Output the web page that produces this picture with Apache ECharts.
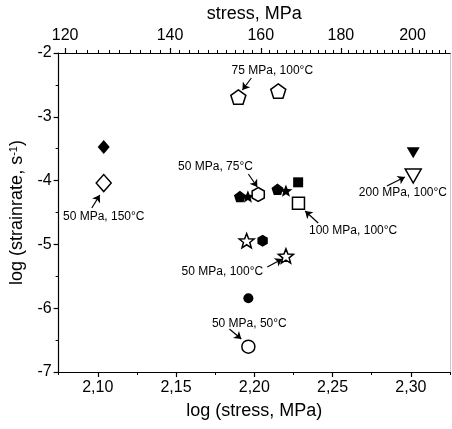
<!DOCTYPE html>
<html>
<head>
<meta charset="utf-8">
<script src="https://cdn.jsdelivr.net/npm/echarts@6/dist/echarts.min.js"></script>
<style>
  html, body { margin: 0; padding: 0; background: #fff; }
  #chart { width: 452px; height: 429px; }
</style>
</head>
<body>
<div id="chart"></div>
<script>
// Creep data: log(stress, MPa) vs log(strain rate, 1/s)
const diamondFilled  = [[2.1038, -3.473]];
const diamondOpen    = [[2.1038, -4.038]];
const pentagonOpen   = [[2.1898, -2.690], [2.2153, -2.596]];
const pentagonFilled = [[2.1908, -4.249], [2.2148, -4.136]];
const starFilled     = [[2.1959, -4.249], [2.2202, -4.158]];
const hexagonOpen    = [[2.2025, -4.218]];
const hexagonFilled  = [[2.2053, -4.942]];
const squareFilled   = [[2.2280, -4.027]];
const squareOpen     = [[2.2282, -4.356]];
const starOpen       = [[2.1951, -4.942], [2.2202, -5.182]];
const circleFilled   = [[2.1962, -5.845]];
const circleOpen     = [[2.1962, -6.603]];
const triangleFilled = [[2.3015, -3.563]];
const triangleOpen   = [[2.3015, -3.928]];

// Axis ticks
const logStressTicks = [2.10, 2.15, 2.20, 2.25, 2.30];
const logStressMinor = [2.075, 2.125, 2.175, 2.225, 2.275, 2.325];
const stressTicks = [120, 140, 160, 180, 200];
const stressMinor = [];
for (let s = 118; s <= 210; s += 2) stressMinor.push(s);

// Annotation texts and arrows (data coordinates)
const noteTexts = [
  { name: '75 MPa, 100°C',  value: [2.2115, -2.282] },
  { name: '50 MPa, 150°C',  value: [2.1038, -4.571] },
  { name: '50 MPa, 75°C',   value: [2.1752, -3.787] },
  { name: '100 MPa, 100°C', value: [2.2631, -4.790] },
  { name: '50 MPa, 100°C',  value: [2.1796, -5.433] },
  { name: '50 MPa, 50°C',   value: [2.1968, -6.248] },
  { name: '200 MPa, 100°C', value: [2.2949, -4.194] }
];
const noteArrows = [
  [[2.1981, -2.392], [2.1924, -2.580]],
  [[2.0962, -4.429], [2.1013, -4.226]],
  [[2.1962, -3.897], [2.2019, -4.100]],
  [[2.2408, -4.665], [2.2325, -4.476]],
  [[2.2083, -5.354], [2.2178, -5.229]],
  [[2.1841, -6.326], [2.1917, -6.483]],
  [[2.2847, -4.085], [2.2962, -3.944]]
];

const xMin = 2.075, xMax = 2.325;
const FONT = 'Liberation Sans, Arial, sans-serif';

const PENTAGON = 'path://M50,0 L97.55,34.55 L79.39,90.45 L20.61,90.45 L2.45,34.55 Z';
const HEXAGON = 'path://M50,0 L93.3,25 L93.3,75 L50,100 L6.7,75 L6.7,25 Z';
const STAR = 'path://M50,0 L62.5,32.8 L97.55,34.55 L70.2,56.6 L79.39,90.45 L50,71 L20.61,90.45 L29.8,56.6 L2.45,34.55 L37.5,32.8 Z';

function marks(data, symbol, size, filled, rotate) {
  return {
    type: 'scatter',
    xAxisIndex: 0,
    yAxisIndex: 0,
    data: data,
    symbol: symbol,
    symbolSize: size,
    symbolRotate: rotate || 0,
    symbolKeepAspect: true,
    silent: true,
    z: 5,
    itemStyle: filled
      ? { color: '#000', borderColor: '#000', borderWidth: 0, opacity: 1 }
      : { color: '#fff', borderColor: '#000', borderWidth: 1.5, opacity: 1 }
  };
}

const log10 = Math.log10;
const chart = echarts.init(document.getElementById('chart'), null, { renderer: 'canvas' });

chart.setOption({
  animation: false,
  backgroundColor: '#fff',
  textStyle: { fontFamily: FONT, color: '#000' },
  grid: { left: 58, right: 2, top: 53, bottom: 57, containLabel: false },
  xAxis: [
    {
      type: 'value', position: 'bottom', min: xMin, max: xMax,
      name: 'log (stress, MPa)', nameLocation: 'middle', nameGap: 30,
      nameTextStyle: { fontSize: 18, fontFamily: FONT, color: '#000' },
      axisLine: { show: true, onZero: false, lineStyle: { color: '#000', width: 1.2 } },
      axisTick: { show: true, length: 5, inside: false, customValues: logStressTicks, lineStyle: { color: '#000', width: 1.2 } },
      axisLabel: {
        show: true, margin: 8, fontSize: 16, fontFamily: FONT, color: '#000',
        customValues: logStressTicks,
        formatter: v => v.toFixed(2).replace('.', ',')
      },
      splitLine: { show: false }
    },
    {
      type: 'value', position: 'top', offset: 0, min: xMin, max: xMax,
      name: 'stress, MPa', nameLocation: 'middle', nameGap: 30,
      nameTextStyle: { fontSize: 18, fontFamily: FONT, color: '#000' },
      axisLine: { show: true, onZero: false, lineStyle: { color: '#000', width: 1.2 } },
      axisTick: { show: true, length: 5, inside: false, customValues: stressTicks.map(log10), lineStyle: { color: '#000', width: 1.2 } },
      axisLabel: {
        show: true, margin: 9, fontSize: 16, fontFamily: FONT, color: '#000',
        customValues: stressTicks.map(log10),
        formatter: v => String(Math.round(Math.pow(10, v)))
      },
      splitLine: { show: false }
    },
    {
      type: 'value', position: 'top', offset: 0, min: xMin, max: xMax,
      axisLine: { show: false, onZero: false },
      axisTick: { show: true, length: 3, inside: false, customValues: stressMinor.map(log10).filter(v => v >= xMin && v <= xMax), lineStyle: { color: '#000', width: 1 } },
      axisLabel: { show: false },
      splitLine: { show: false }
    },
    {
      type: 'value', position: 'bottom', offset: 0, min: xMin, max: xMax,
      axisLine: { show: false, onZero: false },
      axisTick: { show: true, length: 3, inside: false, customValues: logStressMinor, lineStyle: { color: '#000', width: 1 } },
      axisLabel: { show: false },
      splitLine: { show: false }
    }
  ],
  yAxis: [
    {
      type: 'value', position: 'left', min: -7, max: -2, interval: 1,
      name: 'log (strainrate, s{sup|-1})', nameLocation: 'middle', nameGap: 27, nameRotate: 90,
      nameTextStyle: {
        fontSize: 18, fontFamily: FONT, color: '#000',
        rich: { sup: { fontSize: 11, fontFamily: FONT, color: '#000', verticalAlign: 'top', padding: [0, 0, 8, 0] } }
      },
      axisLine: { show: true, onZero: false, lineStyle: { color: '#000', width: 1.2 } },
      axisTick: { show: true, length: 5, inside: false, lineStyle: { color: '#000', width: 1.2 } },
      minorTick: { show: true, splitNumber: 2, length: 3, lineStyle: { color: '#000', width: 1 } },
      axisLabel: { show: true, margin: 7, fontSize: 16, fontFamily: FONT, color: '#000' },
      splitLine: { show: false }
    },
    {
      type: 'value', position: 'right', min: -7, max: -2,
      axisLine: { show: true, onZero: false, lineStyle: { color: '#c8c8c8', width: 1 } },
      axisTick: { show: false },
      axisLabel: { show: false },
      splitLine: { show: false }
    }
  ],
  series: [
    marks(diamondFilled, 'diamond', [12, 14], true),
    marks(diamondOpen, 'diamond', [15, 17], false),
    marks(pentagonOpen, PENTAGON, 15, false),
    marks(pentagonFilled, PENTAGON, 12, true),
    marks(starFilled, STAR, 13, true),
    marks(hexagonOpen, HEXAGON, 14, false),
    marks(hexagonFilled, HEXAGON, 12, true),
    marks(squareFilled, 'rect', 10, true),
    marks(squareOpen, 'rect', 12, false),
    marks(starOpen, STAR, 15, false),
    marks(circleFilled, 'circle', 10, true),
    marks(circleOpen, 'circle', 13, false),
    marks(triangleFilled, 'triangle', [13, 11], true, 180),
    marks(triangleOpen, 'triangle', [16, 14], false, 180),
    {
      type: 'lines',
      coordinateSystem: 'cartesian2d',
      xAxisIndex: 0, yAxisIndex: 0,
      silent: true,
      z: 4,
      symbol: ['none', 'arrow'],
      symbolSize: [0, 7],
      lineStyle: { color: '#000', width: 1.2, opacity: 1 },
      data: noteArrows.map(c => ({ coords: c }))
    },
    {
      type: 'scatter',
      xAxisIndex: 0, yAxisIndex: 0,
      silent: true,
      symbol: 'circle',
      symbolSize: 1,
      itemStyle: { color: 'rgba(0,0,0,0)', opacity: 0 },
      z: 6,
      data: noteTexts,
      label: {
        show: true, position: 'inside', formatter: '{b}',
        fontSize: 12, fontFamily: FONT, color: '#000', opacity: 1
      },
      labelLayout: { hideOverlap: false }
    }
  ]
});
</script>
</body>
</html>
